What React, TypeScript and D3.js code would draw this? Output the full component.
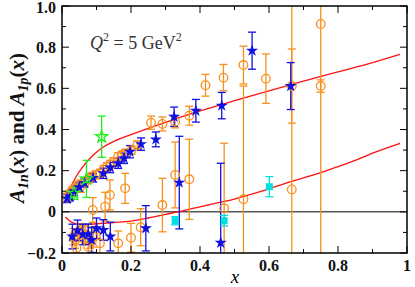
import React from "react";
import * as d3 from "d3";

// red model curves
const curvePX = [0.009, 0.02, 0.04, 0.06, 0.08, 0.1, 0.12, 0.15, 0.2, 0.3, 0.4, 0.5, 0.6, 0.7, 0.8, 0.9, 0.98];
const curvePY = [0.05, 0.1, 0.168, 0.218, 0.258, 0.29, 0.315, 0.342, 0.375, 0.435, 0.49, 0.54, 0.588, 0.635, 0.68, 0.725, 0.765];
const curveNX = [0.01, 0.03, 0.06, 0.1, 0.15, 0.2, 0.25, 0.3, 0.35, 0.4, 0.45, 0.5, 0.55, 0.6, 0.65, 0.7, 0.75, 0.8, 0.85, 0.9, 0.98];
const curveNY = [-0.025, -0.052, -0.062, -0.058, -0.052, -0.045, -0.03, -0.012, 0.005, 0.024, 0.043, 0.062, 0.086, 0.112, 0.14, 0.165, 0.19, 0.22, 0.25, 0.285, 0.333];

// orange open circles (A1p then A1n)
const orangeX = [0.015, 0.022, 0.028, 0.033, 0.04, 0.047, 0.055, 0.067, 0.078, 0.086, 0.098, 0.11, 0.12, 0.13, 0.14, 0.149, 0.163, 0.173, 0.183, 0.202, 0.218, 0.258, 0.291, 0.328, 0.369, 0.416, 0.468, 0.526, 0.591, 0.666, 0.75, 0.75,
  0.033, 0.038, 0.042, 0.047, 0.052, 0.062, 0.067, 0.076, 0.081, 0.089, 0.091, 0.11, 0.125, 0.139, 0.163, 0.183, 0.2, 0.228, 0.291, 0.328, 0.369, 0.47, 0.526, 0.666];
const orangeY = [0.07, 0.085, 0.1, 0.106, 0.115, 0.13, 0.125, 0.146, 0.16, 0.171, 0.18, 0.187, 0.205, 0.219, 0.23, 0.243, 0.268, 0.275, 0.284, 0.3, 0.325, 0.433, 0.427, 0.438, 0.467, 0.615, 0.652, 0.713, 0.647, 0.611, 0.611, 0.913,
  -0.121, -0.137, -0.177, -0.1, -0.097, -0.105, -0.113, -0.17, -0.137, 0.009, -0.121, -0.153, 0.025, 0.082, -0.153, 0.114, -0.126, -0.075, 0.033, 0.179, 0.158, 0.017, 0.061, 0.109];
const orangeErr = [0.02, 0.02, 0.02, 0.02, 0.02, 0.02, 0.03, 0.02, 0.02, 0.02, 0.02, 0.02, 0.02, 0.02, 0.02, 0.02, 0.02, 0.02, 0.02, 0.02, 0.02, 0.032, 0.034, 0.03, 0.046, 0.053, 0.064, 0.092, 0.12, 0.18, 0.03, 1.2,
  0.04, 0.04, 0.04, 0.04, 0.04, 0.04, 0.04, 0.04, 0.04, 0.06, 0.05, 0.05, 0.07, 0.073, 0.06, 0.073, 0.07, 0.09, 0.13, 0.16, 0.195, 0.316, 0.55, 1.0];

// blue stars
const blueX = [0.015, 0.023, 0.035, 0.05, 0.065, 0.09, 0.12, 0.14, 0.163, 0.18, 0.197, 0.229, 0.272, 0.325, 0.388, 0.463, 0.551, 0.663,
  0.03, 0.045, 0.06, 0.076, 0.086, 0.1, 0.12, 0.14, 0.243, 0.34, 0.46];
const blueY = [0.065, 0.073, 0.1, 0.12, 0.14, 0.165, 0.187, 0.215, 0.236, 0.26, 0.292, 0.329, 0.352, 0.462, 0.491, 0.516, 0.783, 0.611,
  -0.12, -0.09, -0.11, -0.109, -0.137, -0.08, -0.088, -0.12, -0.08, 0.142, -0.15];
const blueErr = [0.02, 0.02, 0.02, 0.02, 0.02, 0.02, 0.025, 0.025, 0.025, 0.025, 0.03, 0.03, 0.036, 0.047, 0.055, 0.064, 0.09, 0.114,
  0.06, 0.05, 0.05, 0.05, 0.06, 0.05, 0.05, 0.07, 0.11, 0.225, 0.386];

// green stars
const greenX = [0.035, 0.071, 0.115];
const greenY = [0.09, 0.16, 0.365];
const greenErr = [0.03, 0.09, 0.1];

// cyan squares
const cyanX = [0.328, 0.47, 0.601];
const cyanY = [-0.043, -0.043, 0.122];
const cyanErr = [0.02, 0.026, 0.049];

const xTicks = [0, 0.2, 0.4, 0.6, 0.8, 1];
const xTickLabels = ["0", "0.2", "0.4", "0.6", "0.8", "1"];
const yTicks = [-0.2, 0, 0.2, 0.4, 0.6, 0.8, 1.0];
const yTickLabels = ["\u22120.2", "0", "0.2", "0.4", "0.6", "0.8", "1.0"];

const W = 415;
const H = 287;
const left = 62, right = 407, top = 6, bottom = 253;

const ORANGE = "#f7901e";
const BLUE = "#1010e0";
const GREEN = "#22ee22";
const CYAN = "#00e0e0";
const RED = "#ff1010";
const serif = { fontFamily: "'Liberation Serif', 'DejaVu Serif', 'Times New Roman', Times, serif" };

export default function App() {
  const x = d3.scaleLinear().domain([0, 1]).range([left, right]);
  const y = d3.scaleLinear().domain([-0.2, 1.0]).range([bottom, top]);

  const line = d3.line<number>().curve(d3.curveMonotoneX);
  const pPath = line(curvePX.map((v, i) => [x(v), y(curvePY[i])]) as any);
  const nPath = line(curveNX.map((v, i) => [x(v), y(curveNY[i])]) as any);

  const star = d3.symbol().type(d3.symbolStar).size(46)() as string;

  const errBar = (xs: number[], ys: number[], es: number[], color: string, key: string) =>
    xs.map((v, i) => {
      const cx = x(v);
      const y1 = y(ys[i] + es[i]);
      const y2 = y(ys[i] - es[i]);
      return (
        <g key={key + i} stroke={color} strokeWidth={1.3}>
          <line x1={cx} x2={cx} y1={y1} y2={y2} />
          <line x1={cx - 4} x2={cx + 4} y1={y1} y2={y1} />
          <line x1={cx - 4} x2={cx + 4} y1={y2} y2={y2} />
        </g>
      );
    });

  const xMinor = d3.range(0.1, 1, 0.2);
  const yMinor = d3.range(-0.1, 1.0, 0.2);

  return (
    <svg width={W} height={H} style={{ position: "absolute", left: 0, top: 0, background: "#fff" }}>
      <defs>
        <clipPath id="plot">
          <rect x={left} y={top} width={right - left} height={bottom - top} />
        </clipPath>
      </defs>

      <line x1={left} x2={right} y1={y(0)} y2={y(0)} stroke="#000" strokeWidth={1} />

      <g clipPath="url(#plot)">
        <path d={pPath || ""} fill="none" stroke={RED} strokeWidth={1.3} />
        <path d={nPath || ""} fill="none" stroke={RED} strokeWidth={1.3} />

        {errBar(orangeX, orangeY, orangeErr, ORANGE, "oe")}
        {errBar(blueX, blueY, blueErr, BLUE, "be")}
        {errBar(greenX, greenY, greenErr, GREEN, "ge")}
        {errBar(cyanX, cyanY, cyanErr, CYAN, "ce")}

        {orangeX.map((v, i) => (
          <circle key={"o" + i} cx={x(v)} cy={y(orangeY[i])} r={4.3} fill="none" stroke={ORANGE} strokeWidth={1.3} />
        ))}
        {blueX.map((v, i) => (
          <path key={"b" + i} d={star} transform={`translate(${x(v)},${y(blueY[i])})`} fill={BLUE} />
        ))}
        {greenX.map((v, i) => (
          <path key={"g" + i} d={star} transform={`translate(${x(v)},${y(greenY[i])})`} fill="none" stroke={GREEN} strokeWidth={1.3} />
        ))}
        {cyanX.map((v, i) => (
          <rect key={"c" + i} x={x(v) - 3.5} y={y(cyanY[i]) - 3.5} width={7} height={7} fill={CYAN} />
        ))}
      </g>

      {/* ticks, all sides, pointing inward */}
      <g stroke="#000" strokeWidth={1}>
        {xTicks.map((t) => (
          <g key={"xt" + t}>
            <line x1={x(t)} x2={x(t)} y1={bottom} y2={bottom - 7} />
            <line x1={x(t)} x2={x(t)} y1={top} y2={top + 7} />
          </g>
        ))}
        {xMinor.map((t) => (
          <g key={"xm" + t}>
            <line x1={x(t)} x2={x(t)} y1={bottom} y2={bottom - 4} />
            <line x1={x(t)} x2={x(t)} y1={top} y2={top + 4} />
          </g>
        ))}
        {yTicks.map((t) => (
          <g key={"yt" + t}>
            <line x1={left} x2={left + 7} y1={y(t)} y2={y(t)} />
            <line x1={right} x2={right - 7} y1={y(t)} y2={y(t)} />
          </g>
        ))}
        {yMinor.map((t) => (
          <g key={"ym" + t}>
            <line x1={left} x2={left + 4} y1={y(t)} y2={y(t)} />
            <line x1={right} x2={right - 4} y1={y(t)} y2={y(t)} />
          </g>
        ))}
      </g>
      <rect x={left} y={top} width={right - left} height={bottom - top} fill="none" stroke="#000" strokeWidth={1.5} />

      <g style={serif} fontWeight="bold" fontSize={16} fill="#111">
        {xTicks.map((t, i) => (
          <text key={"xl" + t} style={serif} x={x(t)} y={271} textAnchor="middle">{xTickLabels[i]}</text>
        ))}
        {yTicks.map((t, i) => (
          <text key={"yl" + t} style={serif} x={56} y={Math.max(y(t) + 5.5, 13)} textAnchor="end">{yTickLabels[i]}</text>
        ))}
      </g>

      <text x={235} y={283} textAnchor="middle" style={serif} fontStyle="italic" fontSize={19}>x</text>

      <text x={90} y={49} style={serif} fontSize={18} fill="#333">
        <tspan fontStyle="italic">Q</tspan>
        <tspan fontSize={12} dy={-8}>2</tspan>
        <tspan dy={8}> = 5 GeV</tspan>
        <tspan fontSize={12} dy={-8}>2</tspan>
      </text>

      <text transform="translate(24,128) rotate(-90)" textAnchor="middle" style={serif} fontWeight="bold" fontSize={21} fill="#111">
        <tspan fontStyle="italic">A</tspan>
        <tspan fontStyle="italic" fontSize={14} dy={4}>1n</tspan>
        <tspan dy={-4}>(</tspan>
        <tspan fontStyle="italic">x</tspan>
        <tspan>) and </tspan>
        <tspan fontStyle="italic">A</tspan>
        <tspan fontStyle="italic" fontSize={14} dy={4}>1p</tspan>
        <tspan dy={-4}>(</tspan>
        <tspan fontStyle="italic">x</tspan>
        <tspan>)</tspan>
      </text>
    </svg>
  );
}
